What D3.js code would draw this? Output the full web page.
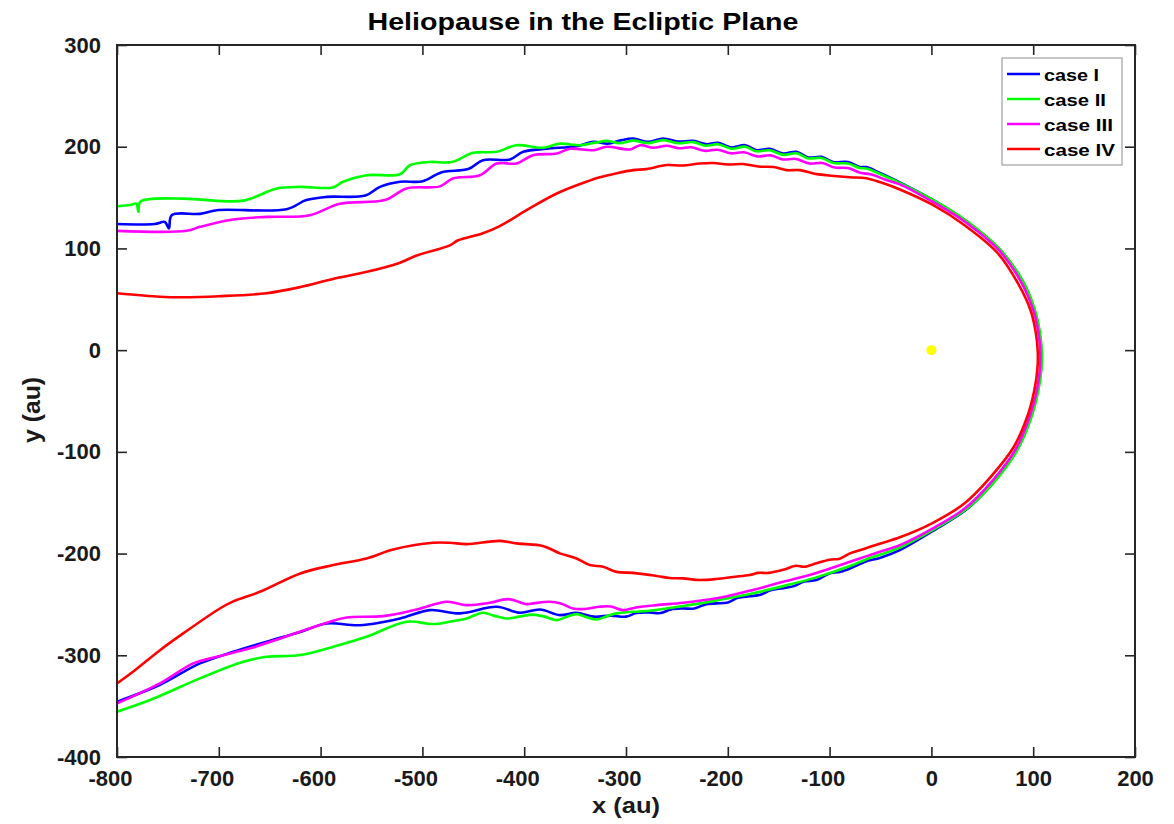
<!DOCTYPE html>
<html>
<head>
<meta charset="utf-8">
<script src="https://cdn.jsdelivr.net/npm/d3@7"></script>
<style>
  body { margin: 0; background: #fff; }
  text { font-family: "Liberation Sans", Arial, sans-serif; font-weight: bold; }
</style>
</head>
<body>
<script>
// heliopause outlines, [x au, y au], from the upper tail round the nose to the lower tail
var caseI = [
  [-800,124],[-763,124],[-753,126],[-749,119.6],[-746.3,132.7],[-718.5,134],[-702,137.6],[-633.4,138.6],
  [-614,147.5],[-594,150.7],[-556,152],[-541.7,160.5],[-522,165.5],[-499.6,166],[-481,175],[-455,178],
  [-440.6,186.8],[-414,187.5],[-401,195],[-378,198],[-348.6,200.5],[-332,204.8],[-318,203],[-306,206],
  [-293,208],[-278.5,204.8],[-263.5,208],[-249,205],[-234,205.8],[-221.6,202.5],[-209.5,203.8],[-196.4,199.3],
  [-183,201.5],[-171.8,196.6],[-158.8,198],[-145.7,193.4],[-132.5,195],[-121,189.4],[-108,190],[-96.6,185],
  [-82,185],[-70.4,180],[-64,180],[-50,174],[-31,165],
  [1,148],[34,127],[67,99],[90,67],[101,40],[106,18],[108,-2],[107.5,-20],[104.5,-40],[98,-65],[84,-98],
  [60,-131],[34,-157],[1,-178],
  [-31,-196.6],[-50,-204],[-65,-208],[-80,-214.6],[-90,-218],[-100,-219.5],[-113,-226],[-125,-227.5],
  [-135,-232],[-145.7,-234],[-158,-236],[-168,-240.5],[-178.5,-242],[-190,-243.5],[-200,-248],[-211,-249],
  [-222,-250],[-233,-254],[-244,-254],[-256,-255],[-266,-258.5],[-276.6,-258],[-290,-258.5],[-300,-262],
  [-315,-261],[-332,-262],[-348.6,-258.2],[-365,-260.5],[-384.6,-255],[-404,-258.2],[-427,-252.3],
  [-463,-258.8],[-492.7,-255.6],[-522,-263.8],[-561.4,-270.4],[-594,-268.7],[-620,-277],[-653,-286.7],
  [-685.8,-296.6],[-718.5,-308],[-757.8,-329],[-800,-345.7]
];

var caseII = [
  [-800,141.5],[-786,143],[-781,144],[-779,136],[-777,146],[-735,149],[-718,148],[-676,147],[-643,159],
  [-620,160.5],[-588,160],[-578,165.5],[-555,172],[-522,173],[-512,182],[-493,185],[-471,185],[-450,194],
  [-427,195],[-407.5,201.5],[-382,199],[-365,203],[-345,201.5],[-330,204],[-319,205.7],[-306,203.5],
  [-293,206],[-278,203.5],[-263,206.5],[-249,203.5],[-234,204.5],[-221.6,201],[-209.5,202.5],[-196.4,198],
  [-183,200],[-171.8,195.5],[-158.8,196.5],[-145.7,192],[-132.5,193.5],[-121,188.5],[-108,189],[-96.6,184],
  [-82,183.5],[-70.4,179],[-64,178.5],[-50,173],[-31,164.5],
  [1,148],[34,127.5],[67,99.5],[90,67.5],[101.5,40],[106.5,18],[108.5,-2],[108,-20],[105,-40],[98.5,-65],
  [84.5,-98],[60.5,-131],[34,-156.5],[1,-177],[-31,-194],[-50,-201],[-65,-206],[-80,-212.3],[-113,-223.4],
  [-145.7,-232],[-178.5,-239.8],[-211,-246],[-244,-251.6],[-276.6,-256.2],[-309.3,-258.8],[-320,-262],
  [-329,-264.8],[-340,-262],[-348.6,-259.5],[-358,-262],[-368,-265.4],[-380,-262],[-391.3,-260],[-405,-262],
  [-417.6,-263.8],[-430,-261],[-440.6,-258.2],[-456.6,-263.8],[-473,-267],[-489.4,-269.3],[-515.5,-267],
  [-555,-281.8],[-587.6,-291.6],[-620,-299.8],[-653,-301.5],[-676,-306.4],[-718.5,-322.7],[-767.6,-344],
  [-800,-355.5]
];

var caseIII = [
  [-800,117.3],[-731.6,117.3],[-718.5,121.2],[-686,128.5],[-653,131],[-610.5,132.7],[-581,144],
  [-536.8,147.5],[-515.5,159],[-482.8,161],[-470,168.8],[-443.5,172],[-427,183.5],[-407.5,183.5],
  [-391.5,191.7],[-368,193.4],[-355,198],[-332,196.6],[-319,200],[-296,197.3],[-286,201.5],[-273,199],
  [-260,201],[-248,198.5],[-236,199.5],[-223,196],[-210,197],[-197,193.5],[-184,194.5],[-171,190.5],
  [-158,191.5],[-146,187.5],[-133,188],[-120,183.5],[-107,184],[-95,179.5],[-82,179],[-70,174.5],
  [-58,172.5],[-45,167.5],[-31,163],
  [1,146],[34,125.5],[67,97.5],[89,65.5],[100,39.5],[105,18],[107,-2],[106.5,-20],[103.5,-40],[97,-64],
  [83,-97],[59,-129.5],[33,-155.5],[1,-175.5],[-31,-191.7],[-50,-198],[-65,-203],[-80,-208],[-113,-219],
  [-145.7,-227.8],[-178.5,-236.6],[-211,-244],[-244,-248.4],[-270,-250.7],[-290,-253],[-303,-255.6],
  [-315,-252],[-326,-252.3],[-340,-254.5],[-352,-254],[-364,-249],[-374.8,-247.4],[-391.3,-249],
  [-397.7,-249.7],[-415.7,-244.8],[-433.7,-248.4],[-456.6,-250.7],[-476,-247.4],[-505.7,-255],
  [-538.5,-261.5],[-574.4,-262.8],[-590.8,-267],[-636.7,-282.5],[-669.4,-293.2],[-702,-301.5],
  [-725,-308],[-757.8,-327.6],[-800,-347.3]
];

var caseIV = [
  [-800,56],[-757.8,52.5],[-735,52],[-700,53],[-653,56],[-620,62],[-588,70],[-554.5,77],[-522,86],
  [-505.7,93],[-473,103],[-465,108],[-440.6,115],[-424,122],[-397.7,137.6],[-368,154],[-339,165.5],
  [-325.7,170],[-309,174],[-293,177],[-280,178],[-260,182],[-245,181.5],[-227.5,183.5],[-214.4,184],
  [-200,182.5],[-185,183],[-170,180.5],[-155,180],[-142.4,177],[-129,177],[-115,173.5],[-103,172],
  [-80,170],[-64,169],[-50,165],[-31,158],
  [1,143],[33,122.5],[65,95.5],[86,64],[97.5,39],[102.5,17.5],[104.5,-2],[104,-20],[101,-40],[95,-63],
  [81,-95],[57,-126],[32,-151],[1,-170],[-31,-184],[-50,-190],[-65,-195],[-80,-199.8],[-90,-205],
  [-100,-206],[-113,-209.6],[-125,-213],[-133,-212],[-145.7,-216],[-160,-219],[-170,-219],[-178.5,-221],
  [-195,-223],[-211,-225],[-227.5,-226],[-244,-224.4],[-257,-224],[-270,-222],[-293,-219],[-309.3,-218],
  [-322.5,-213],[-335.5,-211.3],[-348.6,-204.8],[-365,-199.8],[-381,-192.7],[-407.5,-190],[-424,-187.5],
  [-456.6,-190.7],[-473,-189.4],[-489.4,-189.4],[-528.7,-196],[-555,-204.8],[-587.6,-211.3],
  [-620,-219.5],[-659.6,-237.6],[-685.8,-247],[-699,-254],[-735,-278.5],[-757.8,-295],[-784,-316],
  [-800,-327.7]
];

var caseNames = ["case I", "case II", "case III", "case IV"];
var sunPos = [[0, 0]];
var xTicks = [-800, -700, -600, -500, -400, -300, -200, -100, 0, 100, 200];
var yTicks = [-400, -300, -200, -100, 0, 100, 200, 300];

window.onload = function(){
  var w = 1174, h = 824;
  var left = 117, right = 1135, top = 45, bottom = 757;
  var colors = ["#0000ff", "#00ff00", "#ff00ff", "#ff0000"];
  var legendWidths = [55, 62, 69, 71];

  var svg = d3.select("body")
    .append("svg")
    .attr("width", w)
    .attr("height", h)
    .style("background-color", "#fff");

  var x = d3.scaleLinear().domain([-800, 200]).range([left, right]);
  var y = d3.scaleLinear().domain([-400, 300]).range([bottom, top]);

  // clip the curves to the axes box
  svg.append("clipPath").attr("id", "plotClip")
    .append("rect")
    .attr("x", left).attr("y", top)
    .attr("width", right - left).attr("height", bottom - top);

  var line = d3.line()
    .x(function(d){ return x(d[0]); })
    .y(function(d){ return y(d[1]); })
    .curve(d3.curveCatmullRom.alpha(0.5));

  var series = [caseI, caseII, caseIII, caseIV];
  svg.append("g").attr("clip-path", "url(#plotClip)")
    .selectAll("path")
    .data(series)
    .enter()
    .append("path")
    .attr("d", line)
    .attr("fill", "none")
    .attr("stroke", function(d, i){ return colors[i]; })
    .attr("stroke-width", 2.6)
    .attr("stroke-linejoin", "round");

  // the sun
  svg.selectAll(".sun")
    .data(sunPos)
    .enter()
    .append("circle")
    .attr("class", "sun")
    .attr("cx", function(d){ return x(d[0]); })
    .attr("cy", function(d){ return y(d[1]); })
    .attr("r", 5)
    .attr("fill", "#ffff00");

  // axes, ticks pointing inward like matlab
  var plainNum = function(d){ return String(d); }; // plain hyphen minus

  function styleAxis(g, labelSize){
    g.attr("font-size", labelSize)
      .attr("font-family", "'Liberation Sans', Arial, sans-serif")
      .attr("font-weight", "bold")
      .attr("color", "#262626");
    g.select(".domain").remove();
    g.selectAll(".tick line").attr("stroke-width", 1.6);
    g.selectAll(".tick text").attr("fill", "#1a1a1a");
  }

  var xAxis = svg.append("g")
    .attr("transform", "translate(0," + bottom + ")")
    .call(d3.axisBottom(x).tickValues(xTicks).tickFormat(plainNum).tickSize(-10).tickPadding(13));
  styleAxis(xAxis, 22);
  xAxis.selectAll(".tick text").attr("dx", function(d){ return d < 0 ? -7 : 0; });

  var xTop = svg.append("g")
    .attr("transform", "translate(0," + top + ")")
    .call(d3.axisTop(x).tickValues(xTicks).tickSize(-10).tickFormat(""));
  styleAxis(xTop, 22);

  var yAxis = svg.append("g")
    .attr("transform", "translate(" + left + ",0)")
    .call(d3.axisLeft(y).tickValues(yTicks).tickFormat(plainNum).tickSize(-10).tickPadding(16));
  styleAxis(yAxis, 22);

  var yRight = svg.append("g")
    .attr("transform", "translate(" + right + ",0)")
    .call(d3.axisRight(y).tickValues(yTicks).tickSize(-10).tickFormat(""));
  styleAxis(yRight, 22);

  // box
  svg.append("rect")
    .attr("x", left).attr("y", top)
    .attr("width", right - left).attr("height", bottom - top)
    .attr("fill", "none")
    .attr("stroke", "#262626")
    .attr("stroke-width", 2);

  // title and axis labels
  svg.append("text")
    .attr("x", 583).attr("y", 30)
    .attr("text-anchor", "middle")
    .attr("font-size", 24)
    .attr("textLength", 431)
    .attr("lengthAdjust", "spacingAndGlyphs")
    .attr("fill", "#000")
    .text("Heliopause in the Ecliptic Plane");

  svg.append("text")
    .attr("x", (left + right) / 2).attr("y", 813)
    .attr("text-anchor", "middle")
    .attr("font-size", 22)
    .attr("textLength", 68)
    .attr("lengthAdjust", "spacingAndGlyphs")
    .attr("fill", "#1a1a1a")
    .text("x (au)");

  svg.append("text")
    .attr("transform", "translate(40,410) rotate(-90)")
    .attr("text-anchor", "middle")
    .attr("font-size", 23)
    .attr("textLength", 66)
    .attr("lengthAdjust", "spacingAndGlyphs")
    .attr("fill", "#1a1a1a")
    .text("y (au)");

  // legend
  var legend = svg.append("g");
  legend.append("rect")
    .attr("x", 1002).attr("y", 58)
    .attr("width", 120).attr("height", 107)
    .attr("fill", "#fff")
    .attr("stroke", "#a0a0a0")
    .attr("stroke-width", 1.2);

  var items = legend.selectAll(".item")
    .data(caseNames)
    .enter()
    .append("g")
    .attr("class", "item")
    .attr("transform", function(d, i){ return "translate(0," + (74 + i * 25) + ")"; });

  items.append("line")
    .attr("x1", 1007).attr("x2", 1040)
    .attr("stroke", function(d, i){ return colors[i]; })
    .attr("stroke-width", 2.6);

  items.append("text")
    .attr("x", 1044).attr("y", 7)
    .attr("font-size", 17)
    .attr("textLength", function(d, i){ return legendWidths[i]; })
    .attr("lengthAdjust", "spacingAndGlyphs")
    .attr("fill", "#000")
    .text(function(d){ return d; });
}
</script>
</body>
</html>
